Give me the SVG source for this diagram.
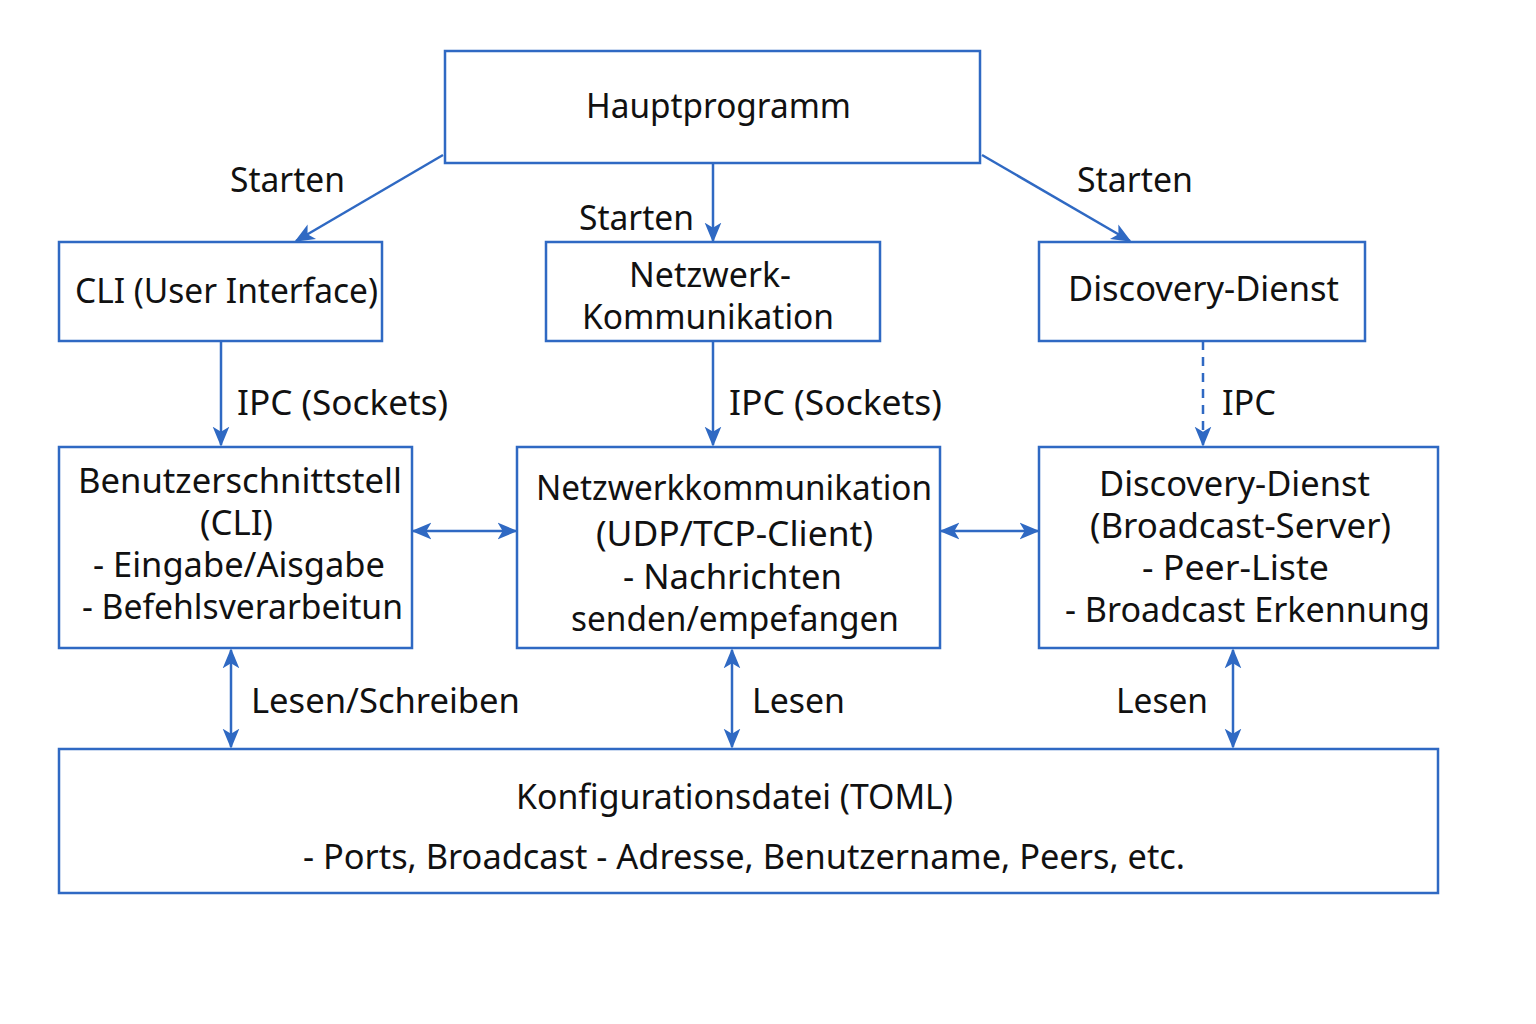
<svg xmlns="http://www.w3.org/2000/svg" width="1536" height="1024" viewBox="0 0 1536 1024">
<style>
.box{fill:#fff;stroke:#2f69c3;stroke-width:2.5}
.t,.l{font-family:"Noto Sans","DejaVu Sans",sans-serif;font-size:34px;fill:#111}
.c{stroke:#2f69c3;stroke-width:2.5;fill:none}
</style>
<defs>
<marker id="a" viewBox="0 0 24 24" refX="22" refY="12" markerWidth="20" markerHeight="20" markerUnits="userSpaceOnUse" orient="auto-start-reverse">
<path d="M0,2 L24,12 L0,22 L6,12 Z" fill="#2f69c3"/>
</marker>
</defs>
<rect width="1536" height="1024" fill="#fff"/>
<g id="connectors">
<line class="c" x1="443" y1="155" x2="296" y2="241" marker-end="url(#a)"/>
<line class="c" x1="713" y1="163" x2="713" y2="241" marker-end="url(#a)"/>
<line class="c" x1="982" y1="155" x2="1130" y2="241" marker-end="url(#a)"/>
<line class="c" x1="221" y1="341" x2="221" y2="445" marker-end="url(#a)"/>
<line class="c" x1="713" y1="341" x2="713" y2="445" marker-end="url(#a)"/>
<line class="c" x1="1203" y1="341" x2="1203" y2="445" stroke-dasharray="9,7" marker-end="url(#a)"/>
<line class="c" x1="413" y1="531" x2="516" y2="531" marker-start="url(#a)" marker-end="url(#a)"/>
<line class="c" x1="941" y1="531" x2="1038" y2="531" marker-start="url(#a)" marker-end="url(#a)"/>
<line class="c" x1="231" y1="650" x2="231" y2="747" marker-start="url(#a)" marker-end="url(#a)"/>
<line class="c" x1="732" y1="650" x2="732" y2="747" marker-start="url(#a)" marker-end="url(#a)"/>
<line class="c" x1="1233" y1="650" x2="1233" y2="747" marker-start="url(#a)" marker-end="url(#a)"/>
<text class="l" x="230" y="192" textLength="115" lengthAdjust="spacingAndGlyphs">Starten</text>
<text class="l" x="579" y="230" textLength="115" lengthAdjust="spacingAndGlyphs">Starten</text>
<text class="l" x="1077" y="192" textLength="116" lengthAdjust="spacingAndGlyphs">Starten</text>
<text class="l" x="237" y="415" textLength="211" lengthAdjust="spacingAndGlyphs">IPC (Sockets)</text>
<text class="l" x="729" y="415" textLength="213" lengthAdjust="spacingAndGlyphs">IPC (Sockets)</text>
<text class="l" x="1222" y="415" textLength="54" lengthAdjust="spacingAndGlyphs">IPC</text>
<text class="l" x="251" y="713" textLength="269" lengthAdjust="spacingAndGlyphs">Lesen/Schreiben</text>
<text class="l" x="752" y="713" textLength="93" lengthAdjust="spacingAndGlyphs">Lesen</text>
<text class="l" x="1116" y="713" textLength="92" lengthAdjust="spacingAndGlyphs">Lesen</text>
</g>
<g id="haupt">
<rect class="box" x="445" y="51" width="535" height="112"/>
<text class="t" x="586" y="118" textLength="265" lengthAdjust="spacingAndGlyphs">Hauptprogramm</text>
</g>
<g id="cli">
<rect class="box" x="59" y="242" width="323" height="99"/>
<text class="t" x="75" y="303" textLength="303" lengthAdjust="spacingAndGlyphs">CLI (User Interface)</text>
</g>
<g id="netz">
<rect class="box" x="546" y="242" width="334" height="99"/>
<text class="t" x="629" y="287" textLength="162" lengthAdjust="spacingAndGlyphs">Netzwerk-</text>
<text class="t" x="582" y="329" textLength="252" lengthAdjust="spacingAndGlyphs">Kommunikation</text>
</g>
<g id="disc">
<rect class="box" x="1039" y="242" width="326" height="99"/>
<text class="t" x="1068" y="301" textLength="271" lengthAdjust="spacingAndGlyphs">Discovery-Dienst</text>
</g>
<g id="benutzer">
<rect class="box" x="59" y="447" width="353" height="201"/>
<text class="t" x="78" y="493" textLength="324" lengthAdjust="spacingAndGlyphs">Benutzerschnittstell</text>
<text class="t" x="200" y="535" textLength="73" lengthAdjust="spacingAndGlyphs">(CLI)</text>
<text class="t" x="93" y="577" textLength="292" lengthAdjust="spacingAndGlyphs">- Eingabe/Aisgabe</text>
<text class="t" x="82" y="619" textLength="321" lengthAdjust="spacingAndGlyphs">- Befehlsverarbeitun</text>
</g>
<g id="netzkomm">
<rect class="box" x="517" y="447" width="423" height="201"/>
<text class="t" x="536" y="500" textLength="396" lengthAdjust="spacingAndGlyphs">Netzwerkkommunikation</text>
<text class="t" x="596" y="546" textLength="277" lengthAdjust="spacingAndGlyphs">(UDP/TCP-Client)</text>
<text class="t" x="623" y="589" textLength="219" lengthAdjust="spacingAndGlyphs">- Nachrichten</text>
<text class="t" x="571" y="631" textLength="328" lengthAdjust="spacingAndGlyphs">senden/empefangen</text>
</g>
<g id="discdienst">
<rect class="box" x="1039" y="447" width="399" height="201"/>
<text class="t" x="1099" y="496" textLength="271" lengthAdjust="spacingAndGlyphs">Discovery-Dienst</text>
<text class="t" x="1090" y="538" textLength="301" lengthAdjust="spacingAndGlyphs">(Broadcast-Server)</text>
<text class="t" x="1142" y="580" textLength="187" lengthAdjust="spacingAndGlyphs">- Peer-Liste</text>
<text class="t" x="1065" y="622" textLength="365" lengthAdjust="spacingAndGlyphs">- Broadcast Erkennung</text>
</g>
<g id="konfig">
<rect class="box" x="59" y="749" width="1379" height="144"/>
<text class="t" x="516" y="809" textLength="437" lengthAdjust="spacingAndGlyphs">Konfigurationsdatei (TOML)</text>
<text class="t" x="303" y="869" textLength="882" lengthAdjust="spacingAndGlyphs">- Ports, Broadcast - Adresse, Benutzername,  Peers, etc.</text>
</g>
</svg>
